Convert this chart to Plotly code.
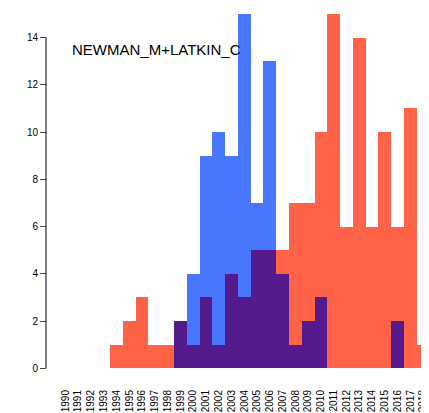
import plotly.graph_objects as go

years = list(range(1990, 2019))
latkin = [0, 0, 0, 0, 1, 2, 3, 1, 1, 2, 1, 3, 1, 4, 3, 5, 5, 5, 7, 7, 10, 15, 6, 14, 6, 10, 6, 11, 1]
newman = [0, 0, 0, 0, 0, 0, 0, 0, 0, 2, 4, 9, 10, 9, 15, 7, 13, 4, 1, 2, 3, 0, 0, 0, 0, 0, 2, 0, 0]
both = [0, 0, 0, 0, 0, 0, 0, 0, 0, 2, 1, 3, 1, 4, 3, 5, 5, 4, 1, 2, 3, 0, 0, 0, 0, 0, 2, 0, 0]

fig = go.Figure()
fig.add_bar(x=years, y=latkin, marker_color="#FF6347", marker_line_width=0)
fig.add_bar(x=years, y=newman, marker_color="#4876FF", marker_line_width=0)
fig.add_bar(x=years, y=both, marker_color="#551A8B", marker_line_width=0)

# R-style y axis line, only from 0 to 14
fig.add_shape(type="line", xref="paper", yref="y", x0=38/429, x1=38/429, y0=0, y1=14,
              line=dict(color="black", width=1))

fig.add_annotation(text="NEWMAN_M+LATKIN_C", xref="paper", yref="paper",
                   x=62/429, y=(365-42)/365, xanchor="left", yanchor="middle",
                   showarrow=False, font=dict(size=15, color="black"))

fig.update_layout(
    width=429, height=413, barmode="overlay", bargap=0, showlegend=False,
    plot_bgcolor="white", paper_bgcolor="white",
    margin=dict(l=0, r=0, t=0, b=48),
    font=dict(family="Liberation Sans, Arial", size=11, color="black"),
    xaxis=dict(domain=[51/429, 421.5/429], range=[1989.5, 2018.5], tickmode="array",
               tickvals=years, ticktext=[str(y) for y in years], tickangle=-90,
               showgrid=False, zeroline=False, ticks="", ticklabelstandoff=14,
               tickfont=dict(size=10)),
    yaxis=dict(anchor="free", position=38/429, range=[-0.2, 15.25], tickvals=list(range(0, 15, 2)),
               ticks="outside", ticklen=6, showgrid=False, zeroline=False,
               showline=False, tickfont=dict(size=10)),
)
fig.write_html("out.html")
